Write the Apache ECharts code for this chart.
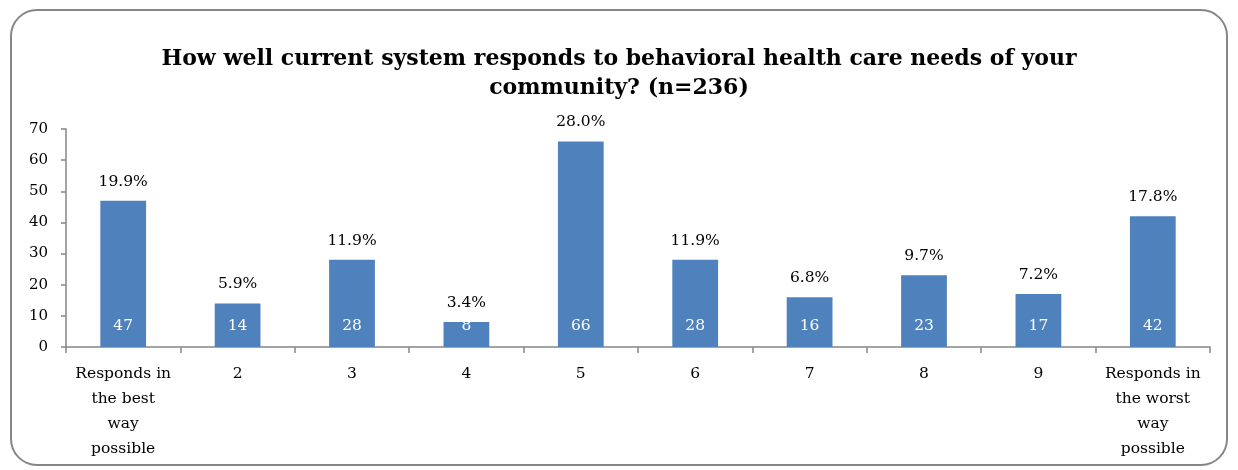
<!DOCTYPE html>
<html><head><meta charset="utf-8">
<script src="https://cdn.jsdelivr.net/npm/echarts@6/dist/echarts.min.js"></script>
<style>html,body{margin:0;padding:0;background:#fff}#c{width:1238px;height:470px}</style>
</head><body><div id="c"></div>
<script>
var categories = ["Responds in\nthe best\nway\npossible","2","3","4","5","6","7","8","9","Responds in\nthe worst\nway\npossible"];
var counts = [47,14,28,8,66,28,16,23,17,42];
var percents = ["19.9%","5.9%","11.9%","3.4%","28.0%","11.9%","6.8%","9.7%","7.2%","17.8%"];
var yTicks = [0,10,20,30,40,50,60,70];
var titleText = "How well current system responds to behavioral health care needs of your\ncommunity? (n=236)";
var FONT = "DejaVu Serif";
var chart = echarts.init(document.getElementById('c'), null, {renderer:'canvas'});
chart.setOption({
  animation:false,
  backgroundColor:'#fff',
  graphic:[{type:'rect',shape:{x:11,y:10,width:1216,height:455,r:26},style:{fill:'none',stroke:'#868686',lineWidth:2}}],
  title:{text:titleText,left:'center',top:40,textStyle:{fontFamily:FONT,fontWeight:'bold',fontSize:22,lineHeight:29,color:'#000'}},
  grid:{left:66,right:28,top:129,bottom:123,containLabel:false},
  xAxis:{type:'category',data:categories,
    axisLine:{lineStyle:{color:'#868686',width:1.5}},
    axisTick:{show:true,length:6,lineStyle:{color:'#868686',width:1.5}},
    axisLabel:{interval:0,fontFamily:FONT,fontSize:15.5,color:'#000',lineHeight:25,margin:14}},
  yAxis:{type:'value',min:0,max:70,interval:10,
    splitLine:{show:false},
    axisLine:{show:true,lineStyle:{color:'#868686',width:1.5}},
    axisTick:{show:true,length:5,lineStyle:{color:'#868686',width:1.5}},
    axisLabel:{fontFamily:FONT,fontSize:15,color:'#000',margin:18,formatter:function(v){return yTicks.indexOf(v)>=0?String(v):'';}}},
  series:[
    {type:'bar',data:counts,barWidth:'40%',itemStyle:{color:'#4F81BD'},
     label:{show:true,position:'insideBottom',distance:13,color:'#fff',fontFamily:FONT,fontSize:15.5}},
    {type:'bar',data:counts,barWidth:'40%',barGap:'-100%',itemStyle:{color:'rgba(0,0,0,0)'},silent:true,
     label:{show:true,position:'top',distance:11,color:'#000',fontFamily:FONT,fontSize:15.5,
       formatter:function(p){return percents[p.dataIndex];}}}
  ]
});
</script></body></html>
